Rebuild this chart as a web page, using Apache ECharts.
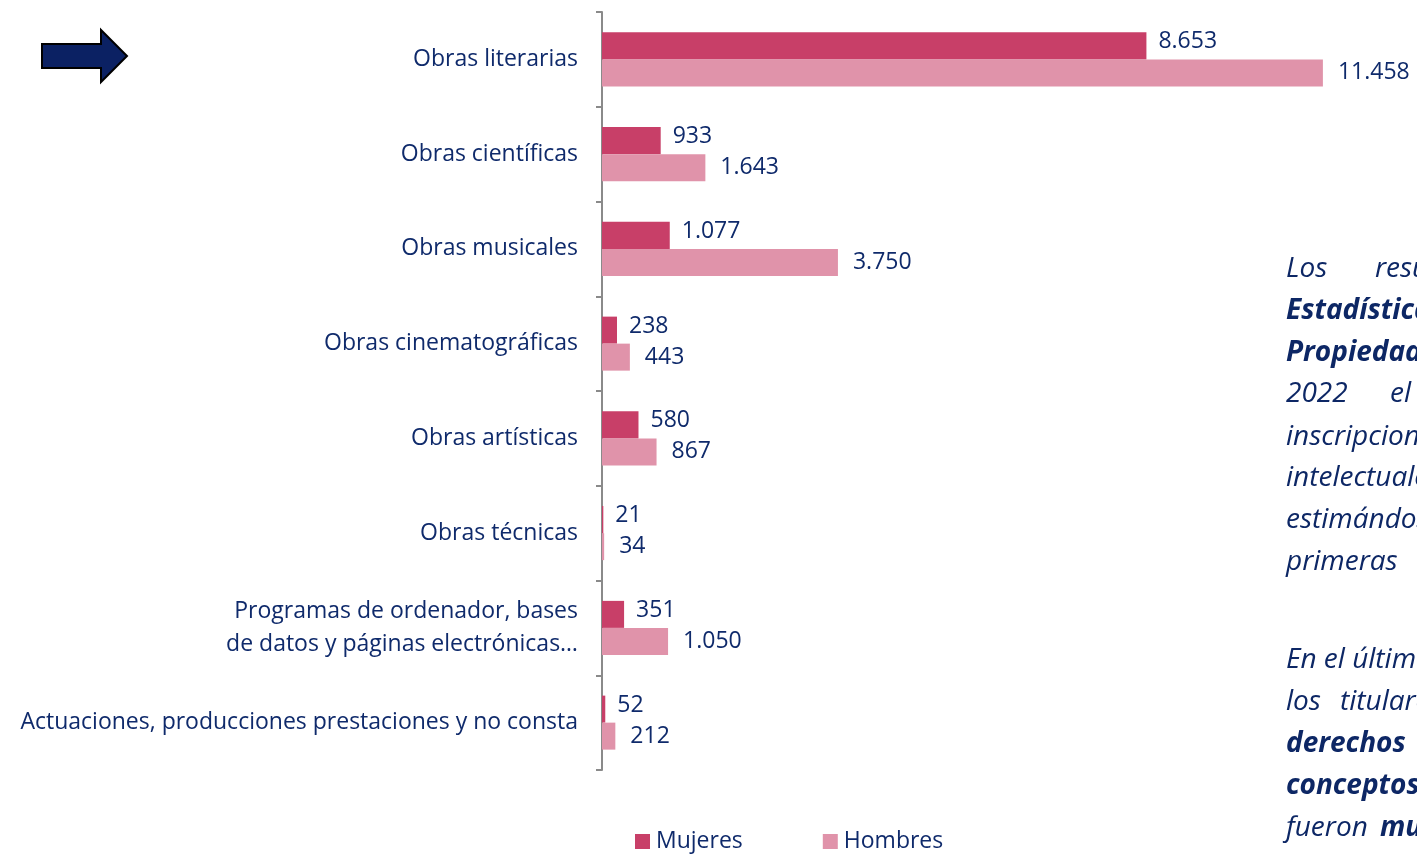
<!DOCTYPE html>
<html>
<head>
<meta charset="utf-8">
<script src="https://cdn.jsdelivr.net/npm/echarts@6/dist/echarts.min.js"></script>
<style>
  html, body { margin: 0; padding: 0; background: #fff; }
  #chart { width: 1417px; height: 855px; }
</style>
</head>
<body>
<div id="chart"></div>
<script>
// categorías y valores (inscripciones por tipo de obra)
const categorias = [
    'Obras literarias',
    'Obras científicas',
    'Obras musicales',
    'Obras cinematográficas',
    'Obras artísticas',
    'Obras técnicas',
    'Programas de ordenador, bases\nde datos y páginas electrónicas…',
    'Actuaciones, producciones prestaciones y no consta'
];
const mujeres = [8653, 933, 1077, 238, 580, 21, 351, 52];
const hombres = [11458, 1643, 3750, 443, 867, 34, 1050, 212];

const azul = '#0f2a6b';
const fuente = 'Open Sans';
const tam = 23;

// formato con punto de miles
function fmt(v) {
    return String(v).replace(/\B(?=(\d{3})+(?!\d))/g, '.');
}

const chart = echarts.init(document.getElementById('chart'));

// texto lateral (recortado por el borde)
const lineasTexto = [
    { y: 269, parts: [{ x: 1286, t: 'Los' }, { x: 1375, t: 'resultados' }] },
    { y: 311, parts: [{ x: 1286, t: 'Estadística', b: true }] },
    { y: 353, parts: [{ x: 1286, t: 'Propiedad', b: true }] },
    { y: 394, parts: [{ x: 1286, t: '2022' }, { x: 1390, t: 'el' }] },
    { y: 437, parts: [{ x: 1286, t: 'inscripciones' }] },
    { y: 478, parts: [{ x: 1286, t: 'intelectuales' }] },
    { y: 520, parts: [{ x: 1286, t: 'estimándose' }] },
    { y: 562, parts: [{ x: 1286, t: 'primeras' }] },
    { y: 660, parts: [{ x: 1286, t: 'En el último' }] },
    { y: 702, parts: [{ x: 1286, t: 'los' }, { x: 1340, t: 'titulares' }] },
    { y: 744, parts: [{ x: 1286, t: 'derechos', b: true }] },
    { y: 786, parts: [{ x: 1286, t: 'conceptos', b: true }] },
    { y: 828, parts: [{ x: 1286, t: 'fueron' }, { x: 1380, t: 'mujeres', b: true }] }
];

const graficos = [{
    type: 'polygon',
    shape: {
        points: [[42, 44], [101, 44], [101, 30], [127, 56], [101, 82], [101, 68], [42, 68]]
    },
    style: { fill: '#0b2163', stroke: '#000', lineWidth: 2 }
}];
lineasTexto.forEach(function (l) {
    l.parts.forEach(function (p) {
        graficos.push({
            type: 'text',
            x: p.x,
            y: l.y,
            style: {
                text: p.t,
                fill: '#0d2765',
                font: 'italic ' + (p.b ? 'bold ' : '') + '28px ' + fuente,
                textVerticalAlign: 'middle'
            }
        });
    });
});

const option = {
    animation: false,
    textStyle: { fontFamily: fuente },
    grid: { left: 602, top: 12, bottom: 85, right: 60 },
    legend: {
        bottom: -3,
        left: 630,
        itemGap: 80,
        itemWidth: 15,
        itemHeight: 15,
        itemStyle: { borderWidth: 0 },
        icon: 'rect',
        textStyle: { color: azul, fontSize: tam, fontFamily: fuente, padding: [0, 0, 0, 1] },
        data: ['Mujeres', 'Hombres']
    },
    xAxis: {
        type: 'value',
        min: 0,
        max: 12000,
        show: false
    },
    yAxis: {
        type: 'category',
        inverse: true,
        data: categorias,
        axisLine: { lineStyle: { color: '#8a8a8a', width: 2 } },
        axisTick: { show: true, length: 6, lineStyle: { color: '#8a8a8a', width: 2 } },
        axisLabel: {
            margin: 24,
            color: azul,
            fontSize: tam,
            lineHeight: 33,
            align: 'right'
        }
    },
    series: [
        {
            name: 'Mujeres',
            type: 'bar',
            data: mujeres,
            barGap: '0%',
            barCategoryGap: '43%',
            itemStyle: { color: '#c83f68' },
            label: {
                show: true,
                position: 'right',
                distance: 12,
                offset: [0, -4],
                color: azul,
                fontSize: tam,
                formatter: function (p) { return fmt(p.value); }
            }
        },
        {
            name: 'Hombres',
            type: 'bar',
            data: hombres,
            barGap: '0%',
            barCategoryGap: '43%',
            itemStyle: { color: '#e093aa' },
            label: {
                show: true,
                position: 'right',
                distance: 15,
                color: azul,
                fontSize: tam,
                formatter: function (p) { return fmt(p.value); }
            }
        }
    ],
    graphic: graficos
};

chart.setOption(option);
</script>
</body>
</html>
